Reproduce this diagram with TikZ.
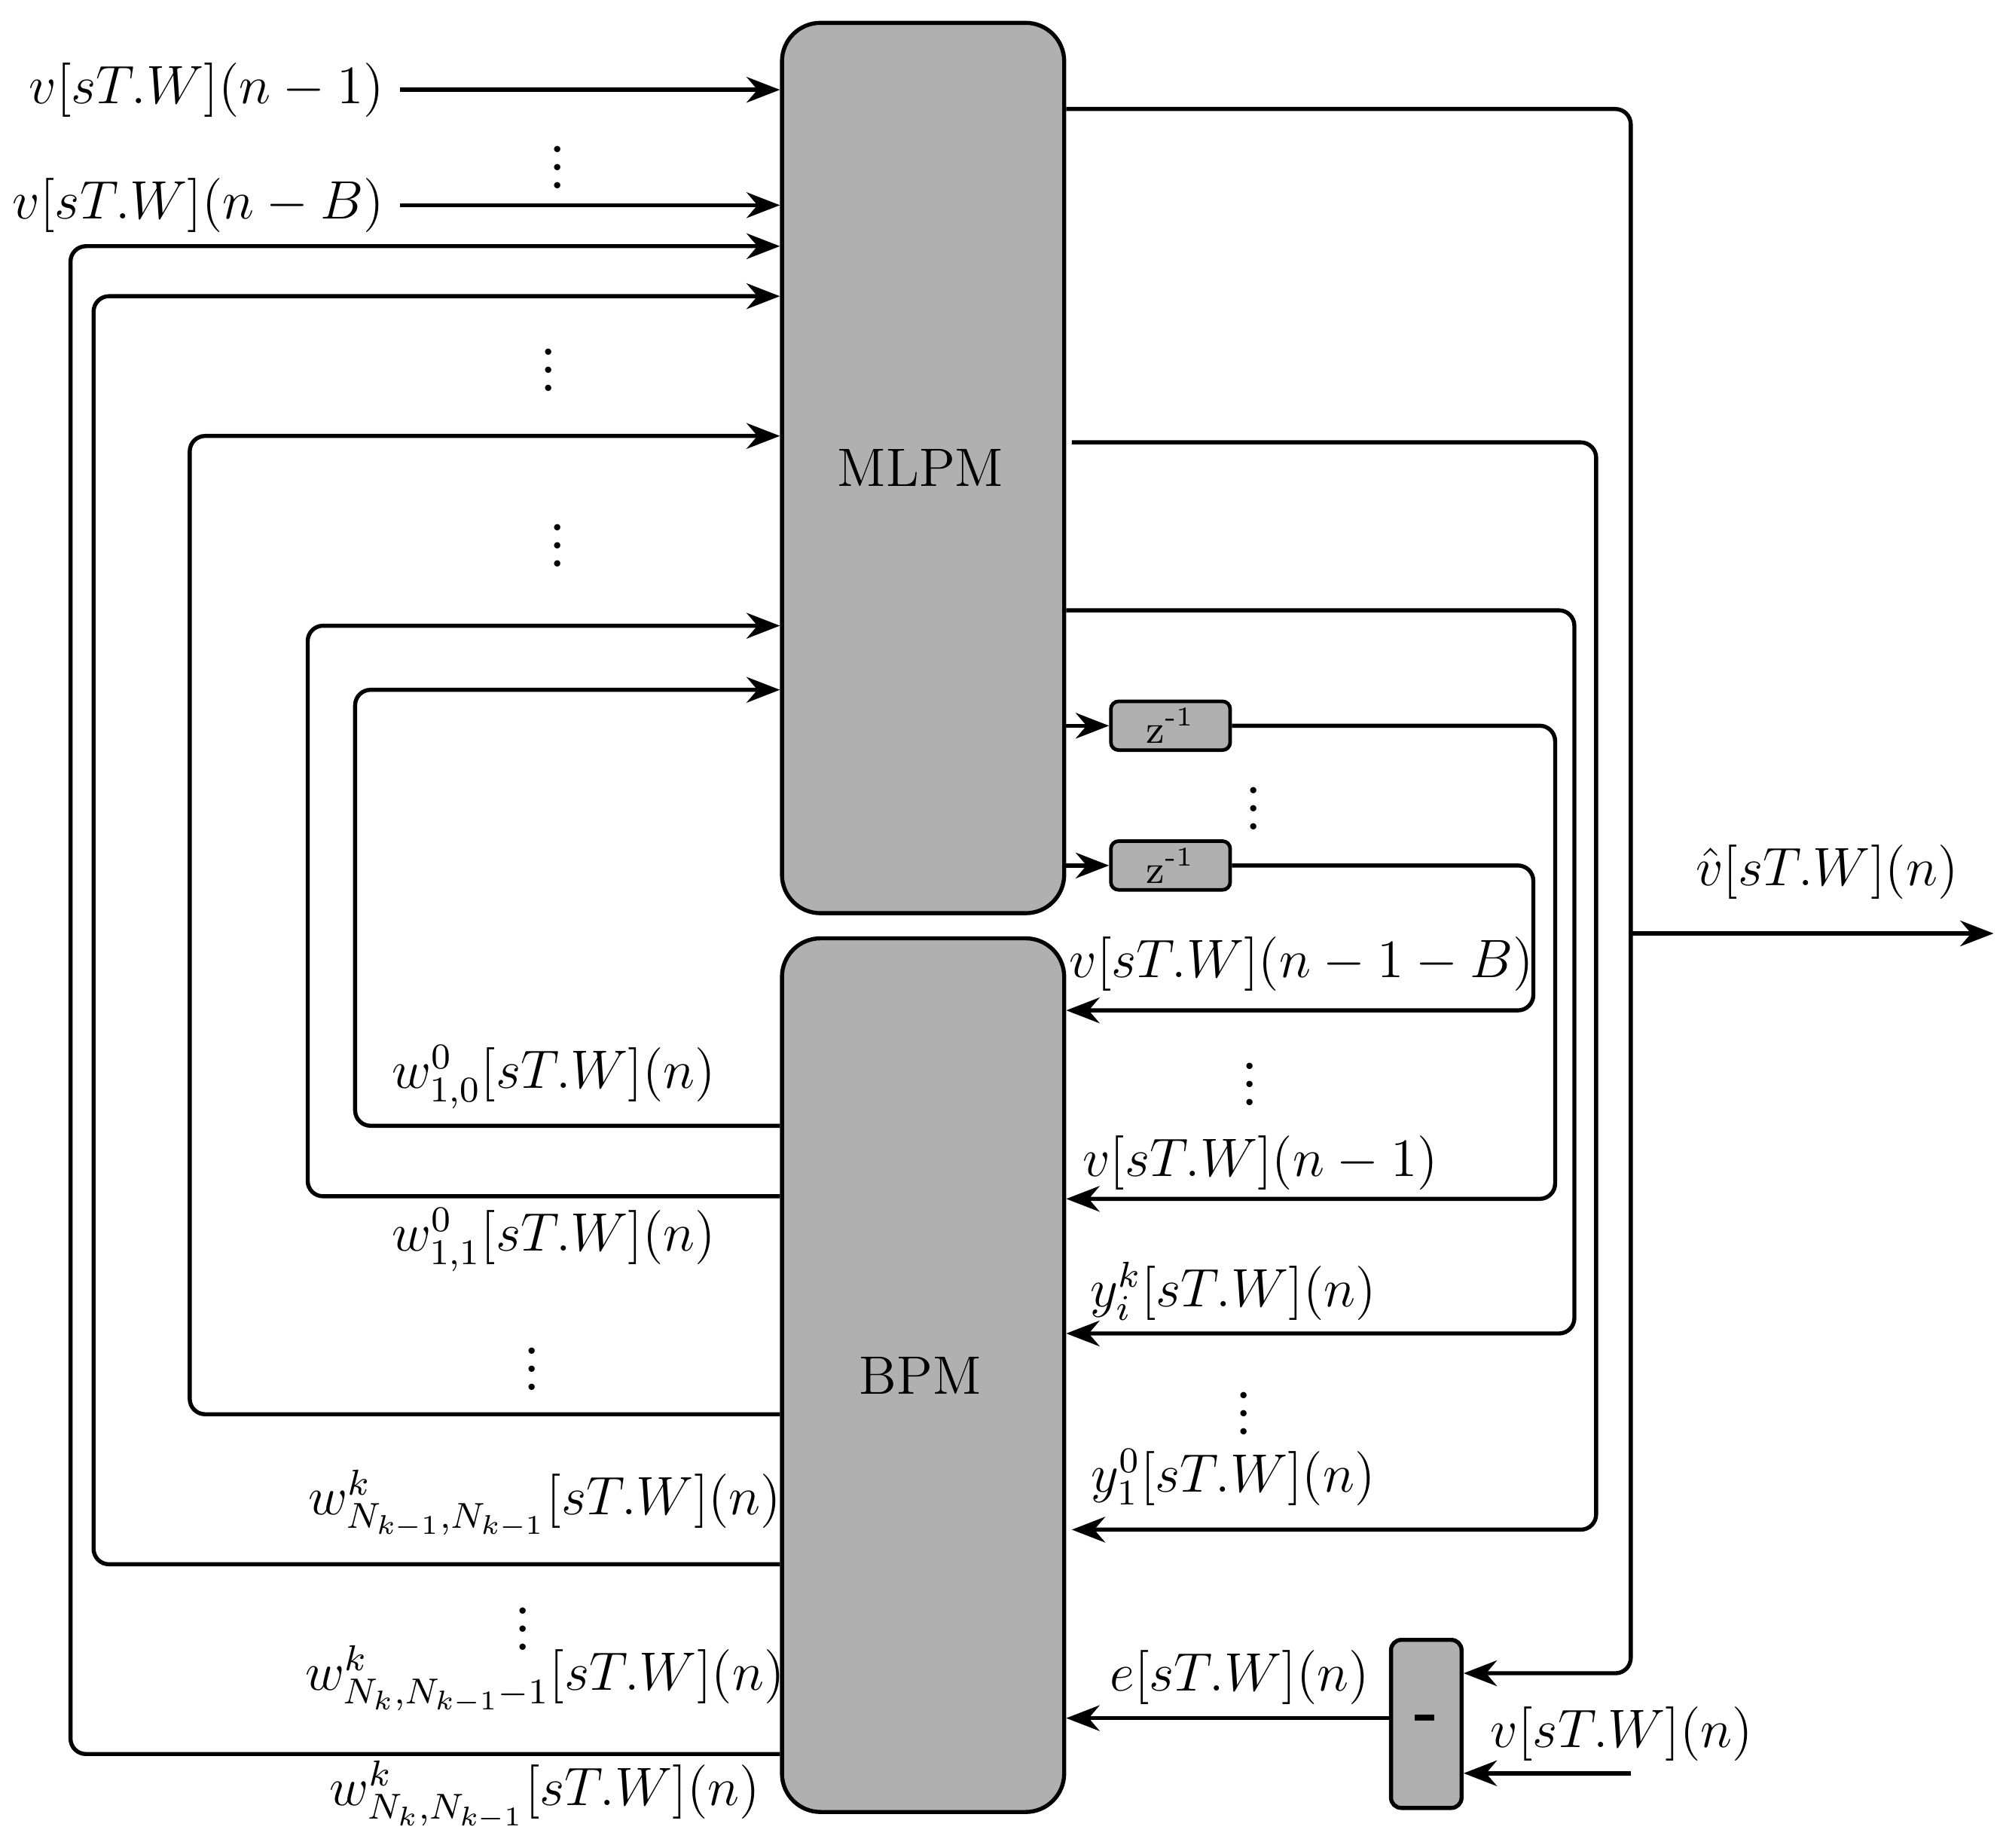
\documentclass[tikz,border=0pt]{standalone}
\usetikzlibrary{arrows.meta}
\definecolor{boxgray}{RGB}{176,176,176}
\tikzset{
  blk/.style={draw,line width=0.9pt,fill=boxgray,rounded corners=0.3cm,inner sep=0},
  dly/.style={draw,line width=0.8pt,fill=boxgray,rounded corners=0.06cm,minimum width=0.93cm,minimum height=0.38cm,inner sep=0,font=\small},
  sig/.style={line width=0.9pt,rounded corners=0.12cm,-{Stealth[length=2.6mm,width=2mm]}},
  lbl/.style={font=\large},
  dts/.style={font=\Large,inner sep=0}
}
\begin{document}
\begin{tikzpicture}[x=0.01cm,y=-0.01cm]
\useasboundingbox (0,0) rectangle (1560,1441);
% blocks
\node[blk,minimum width=2.2cm,minimum height=6.94cm] (mlpm) at (720,365) {};
\node[font=\large] at (718,365) {MLPM};
\node[blk,minimum width=2.2cm,minimum height=6.81cm] (bpm) at (720,1072.5) {};
\node[font=\large] at (718,1073) {BPM};
\node[dly] (d1) at (913,566) {z\textsuperscript{-1}};
\node[dly] (d2) at (913,675) {z\textsuperscript{-1}};
\node[blk,rounded corners=0.08cm,minimum width=0.55cm,minimum height=1.31cm,font=\Large\bfseries] (sub) at (1112.5,1344.5) {-};
% inputs
\node[lbl,anchor=east] (in1) at (312,70) {$v[sT.W](n-1)$};
\node[lbl,anchor=east] (inb) at (312,160) {$v[sT.W](n-B)$};
\draw[sig] (in1.east) -- (mlpm.west |- 0,70);
\draw[sig] (inb.east) -- (mlpm.west |- 0,160);
\node[dts] at (435,120) {$\vdots$};
\node[dts] at (428,278) {$\vdots$};
\node[dts] at (435,415) {$\vdots$};
% weights fed back
\draw[sig] (bpm.west |- 0,1368) -| (55,192) -- (mlpm.west |- 0,192);
\draw[sig] (bpm.west |- 0,1220) -| (73,231) -- (mlpm.west |- 0,231);
\draw[sig] (bpm.west |- 0,1103) -| (148,340) -- (mlpm.west |- 0,340);
\draw[sig] (bpm.west |- 0,933) -| (240,488) -- (mlpm.west |- 0,488);
\draw[sig] (bpm.west |- 0,878) -| (277,538) -- (mlpm.west |- 0,538);
\node[lbl] at (432,840) {$w^0_{1,0}[sT.W](n)$};
\node[lbl] at (432,967) {$w^0_{1,1}[sT.W](n)$};
\node[dts] at (415,1057) {$\vdots$};
\node[lbl] at (425,1173) {$w^k_{N_{k-1},N_{k-1}}[sT.W](n)$};
\node[dts] at (408,1260) {$\vdots$};
\node[lbl] at (425,1310) {$w^k_{N_k,N_{k-1}-1}[sT.W](n)$};
\node[lbl] at (425,1400) {$w^k_{N_k,N_{k-1}}[sT.W](n)$};
% outputs and feedback
\draw[sig] (mlpm.east |- 0,85) -| (1272,1305) -- (sub.east |- 0,1305);
\coordinate (out) at (1555,728);
\draw[sig] (1272,728) -- (out);
\node[lbl] at (1425,680) {$\hat{v}[sT.W](n)$};
\draw[sig] (836,345) -| (1245,1193) -- (836,1193);
\draw[sig] (mlpm.east |- 0,476) -| (1228,1040) -- (bpm.east |- 0,1040);
\draw[sig] (mlpm.east |- 0,566) -- (d1.west);
\draw[sig] (mlpm.east |- 0,675) -- (d2.west);
\draw[sig] (d1.east) -| (1213,935) -- (bpm.east |- 0,935);
\draw[sig] (d2.east) -| (1196,788) -- (bpm.east |- 0,788);
\node[dts] at (978,620) {$\vdots$};
\node[lbl] at (1015,752) {$v[sT.W](n-1-B)$};
\node[dts] at (975,835) {$\vdots$};
\node[lbl] at (983,907) {$v[sT.W](n-1)$};
\node[lbl] at (962,1007) {$y^k_i[sT.W](n)$};
\node[dts] at (970,1092) {$\vdots$};
\node[lbl] at (962,1152) {$y^0_1[sT.W](n)$};
% error
\draw[sig] (sub.west |- 0,1340) -- (bpm.east |- 0,1340);
\node[lbl] at (967,1308) {$e[sT.W](n)$};
\coordinate (ref) at (1272,1383);
\draw[sig] (ref) -- (sub.east |- 0,1383);
\node[lbl] at (1265,1352) {$v[sT.W](n)$};
\end{tikzpicture}
\end{document}
